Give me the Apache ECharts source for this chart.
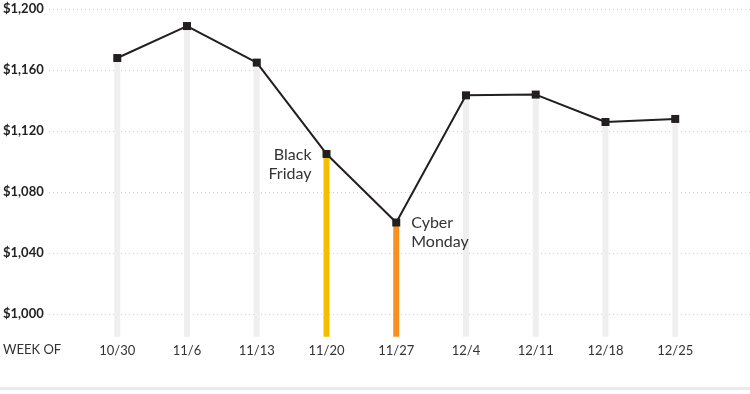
<!DOCTYPE html>
<html><head><meta charset="utf-8">
<script src="https://cdn.jsdelivr.net/npm/echarts@6/dist/echarts.min.js"></script>
<style>html,body{margin:0;padding:0;background:#fff}#c{width:750px;height:394px}</style>
</head><body><div id="c"></div>
<script>
var categories = ['10/30','11/6','11/13','11/20','11/27','12/4','12/11','12/18','12/25'];
var values = [1168, 1189, 1165, 1105, 1060, 1143.5, 1144, 1126, 1128];
var yTicks = [1000, 1040, 1080, 1120, 1160, 1200];
var highlights = {'11/20': '#F5BF00', '11/27': '#F7901E'};
var annotations = {'11/20': 'Black\nFriday', '11/27': 'Cyber\nMonday'};
var yMin = 985, yMax = 1200;

var FONT = 'Lato';
var barData = categories.map(function (c, i) {
  return { value: values[i], itemStyle: { color: highlights[c] || '#EFEFEF' } };
});
var lineData = categories.map(function (c, i) {
  var d = { value: values[i] };
  if (annotations[c]) {
    var left = c === '11/20';
    d.label = {
      show: true, formatter: annotations[c], position: left ? 'left' : 'right',
      align: left ? 'right' : 'left', distance: 11, offset: [0, 10],
      fontFamily: FONT, fontSize: 16, lineHeight: 19, color: '#333'
    };
  }
  return d;
});

var chart = echarts.init(document.getElementById('c'), null, {renderer: 'canvas'});
chart.setOption({
  animation: false,
  backgroundColor: '#fff',
  grid: [
    { left: 48, right: 0, top: 9.3, bottom: 57.3 },
    { left: 82.4, right: 39.9, top: 9.3, bottom: 57.3 }
  ],
  xAxis: [
    { gridIndex: 0, type: 'value', min: 0, max: 1, show: false },
    { gridIndex: 1, type: 'category', data: categories,
      axisLine: { show: false }, axisTick: { show: false },
      axisLabel: { margin: 8, fontFamily: FONT, fontSize: 13, color: '#333' } }
  ],
  yAxis: [
    { gridIndex: 0, type: 'value', min: yMin, max: yMax,
      axisLine: { show: false },
      axisTick: { show: false, customValues: yTicks },
      axisLabel: { customValues: yTicks, align: 'left', margin: 46, fontFamily: FONT, fontSize: 13,
        fontWeight: 'bold', color: '#222',
        formatter: function (v) { return '$' + v.toLocaleString('en-US'); } },
      splitLine: { show: true, lineStyle: { color: '#cfcfcf', type: [1, 3], width: 1 } } },
    { gridIndex: 1, type: 'value', min: yMin, max: yMax, show: false, splitLine: { show: false } }
  ],
  graphic: [
    { type: 'text', left: 3, top: 343, style: { text: 'WEEK OF', fontFamily: FONT, fontSize: 13, fill: '#333' } },
    { type: 'rect', left: 0, top: 387, shape: { width: 750, height: 3 }, style: { fill: '#EBEBEB' } }
  ],
  series: [
    { type: 'bar', xAxisIndex: 1, yAxisIndex: 1, data: barData, barWidth: 6, silent: true },
    { type: 'line', xAxisIndex: 1, yAxisIndex: 1, data: lineData, symbol: 'rect', symbolSize: 8,
      itemStyle: { color: '#231F20' }, lineStyle: { color: '#231F20', width: 2 } }
  ]
});
</script></body></html>
